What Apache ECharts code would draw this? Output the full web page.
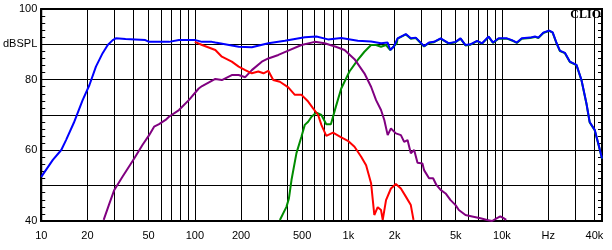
<!DOCTYPE html>
<html>
<head>
<meta charset="utf-8">
<script src="https://cdn.jsdelivr.net/npm/echarts@6/dist/echarts.min.js"></script>
<style>html,body{margin:0;padding:0;background:#fff}#c{width:612px;height:250px}</style>
</head>
<body>
<div id="c"></div>
<script>
// Frequencies in Hz, levels in dBSPL
const blueFreq = [10, 11.9, 13.5, 14.5, 16.3, 18.6, 20.6, 22.7, 25.1, 27.1, 29.2, 30.6, 35.4, 47.6, 50.4, 67.9, 78.8, 101, 111.5, 129, 136, 193, 235, 301, 386, 520, 619, 737, 898, 1151, 1405, 1631, 1802, 1873, 1971, 2091, 2366, 2549, 2746, 3110, 3350, 3610, 3987, 4510, 4986, 5370, 5785, 6235, 6886, 7425, 8190, 8745, 9510, 10770, 11600, 12500, 13460, 15230, 16410, 17250, 18580, 20320, 21380, 22700, 23840, 25690, 27680, 30560, 32940, 35480, 37250, 40160, 42630, 44800];
const blueDb = [52.5, 57.3, 60.1, 62.9, 67.8, 74.2, 78.5, 83.7, 87.5, 89.8, 91.2, 91.7, 91.5, 91.2, 90.7, 90.7, 91.2, 91.2, 90.7, 90.7, 90.5, 89.3, 89.2, 90.3, 91.0, 92.0, 92.2, 91.4, 91.8, 91.0, 90.8, 90.3, 90.5, 88.4, 89.3, 91.7, 92.9, 91.7, 91.9, 89.5, 90.5, 90.7, 91.7, 90.3, 90.7, 91.7, 89.8, 90.0, 91.0, 90.3, 92.2, 90.5, 91.7, 91.7, 91.2, 90.5, 91.7, 91.9, 92.2, 91.9, 93.3, 93.9, 93.4, 90.3, 88.2, 87.6, 85.1, 84.2, 79.9, 73.3, 68.0, 65.8, 61.5, 57.7];

const redFreq = [100, 111.5, 136, 150, 174, 193, 213, 235, 259, 280, 301, 324, 358, 406, 448, 495, 547, 589, 635, 667, 718, 794, 898, 993, 1096, 1211, 1304, 1405, 1475, 1552, 1631, 1673, 1758, 1892, 2038, 2197, 2366, 2549, 2654];
const redDb = [90.7, 89.8, 88.4, 86.5, 85.1, 83.7, 82.7, 81.8, 82.3, 81.8, 82.5, 79.9, 79.4, 77.8, 75.7, 75.7, 73.8, 71.9, 70.0, 67.2, 64.1, 65.0, 63.7, 62.7, 61.0, 58.2, 55.8, 50.7, 41.7, 43.9, 43.1, 40.3, 45.9, 49.2, 50.5, 49.2, 46.9, 44.5, 40.3];

const greenFreq = [358, 395, 410, 426, 459, 495, 520, 547, 575, 619, 667, 718, 769, 828, 898, 1016, 1151, 1271, 1405, 1514, 1631, 1758, 1873, 2065, 2091, 2366, 2549, 2746, 3110, 3350, 3610, 3987, 4510, 4986, 5370, 5785, 6235, 6886, 7425, 8190, 8745, 9510, 10770, 11600, 12500, 13460, 15230, 16410, 17250, 18580, 20320, 21380, 22700, 23840, 25690, 27680, 30560, 32940, 35480, 37250, 40160, 42630, 44800];
const greenDb = [40.3, 44.0, 46.4, 51.6, 59.2, 63.9, 67.2, 68.1, 69.5, 70.7, 70.0, 67.4, 67.4, 72.3, 77.5, 82.3, 85.6, 87.9, 89.8, 89.8, 89.3, 89.8, 88.4, 90.3, 91.6, 92.8, 91.6, 91.8, 89.4, 90.4, 90.6, 91.6, 90.2, 90.6, 91.6, 89.7, 89.9, 90.9, 90.2, 92.1, 90.4, 91.6, 91.6, 91.1, 90.4, 91.6, 91.8, 92.1, 91.8, 93.2, 93.8, 93.3, 90.2, 88.1, 87.5, 85.0, 84.1, 79.8, 73.2, 67.9, 65.7, 61.4, 57.6];

const purpleFreq = [25.5, 27.8, 29.9, 33.8, 40.3, 45.6, 50.4, 54.3, 58.5, 64.5, 67.9, 78.8, 91.4, 106, 111.5, 136, 150, 174, 193, 213, 235, 273, 301, 350, 406, 495, 604, 700, 828, 944, 1096, 1271, 1405, 1514, 1631, 1713, 1802, 1892, 2038, 2197, 2307, 2427, 2549, 2680, 2818, 3035, 3110, 3350, 3561, 3740, 3987, 4295, 4626, 4986, 5237, 5785, 6391, 7241, 7998, 8616, 9284, 9750, 10240, 10660];
const purpleDb = [40.3, 45.0, 48.8, 52.5, 57.7, 61.5, 64.3, 66.7, 67.4, 68.6, 69.5, 71.4, 74.2, 77.5, 78.2, 80.2, 79.9, 81.3, 81.3, 80.7, 82.7, 85.1, 86.0, 87.0, 88.2, 89.8, 90.7, 90.3, 89.3, 88.4, 85.8, 81.8, 78.0, 74.2, 71.4, 68.6, 64.3, 66.2, 64.8, 64.3, 62.4, 62.9, 59.2, 60.1, 56.5, 56.3, 54.4, 52.1, 52.1, 50.2, 48.8, 47.8, 45.9, 44.5, 43.1, 41.7, 41.3, 40.8, 40.3, 40.0, 40.8, 41.3, 40.8, 40.3];

const gridFreqs = [20,30,40,50,60,70,80,90,100,200,300,400,500,600,700,800,900,1000,2000,3000,4000,5000,6000,7000,8000,9000,10000,20000,30000,40000];
const labelFreqs = [10,20,50,100,200,500,1000,2000,5000,10000,20000,40000];
const labelTexts = ['10','20','50','100','200','500','1k','2k','5k','10k','Hz','40k'];
const yLabels = {100:'100', 90:'dBSPL', 80:'80', 70:'', 60:'60', 50:'', 40:'40'};
const fMin = 10, fMax = 44800;

const lg = Math.log10;
const pts = (f, d) => f.map((v, i) => [lg(v), d[i]]);
const lineSeries = (name, f, d, color) => ({
  name, type: 'line', data: pts(f, d), showSymbol: false, symbol: 'none',
  lineStyle: { color, width: 2 }, itemStyle: { color }, animation: false
});

const chart = echarts.init(document.getElementById('c'), null, { renderer: 'canvas' });
const font = 'Liberation Sans, Arial, sans-serif';
chart.setOption({
  animation: false,
  backgroundColor: '#fff',
  grid: { left: 38, right: 10, top: 9, bottom: 29, show: true, borderColor: '#000', borderWidth: 2, containLabel: false },
  xAxis: {
    type: 'value', min: lg(fMin), max: lg(fMax),
    axisLine: { show: true, lineStyle: { color: '#000', width: 2 } },
    splitLine: { show: false },
    axisTick: { show: true, inside: true, length: 212, customValues: gridFreqs.map(lg), lineStyle: { color: '#000', width: 1 } },
    axisLabel: {
      customValues: labelFreqs.map(lg), margin: 9, color: '#000', fontSize: 11, fontFamily: font,
      formatter: v => { const i = labelFreqs.findIndex(f => Math.abs(lg(f) - v) < 1e-6); return i >= 0 ? labelTexts[i] : ''; }
    }
  },
  yAxis: [{
    type: 'value', min: 40, max: 100, interval: 10, position: 'left',
    axisLine: { show: true, lineStyle: { color: '#000', width: 2 } },
    splitLine: { show: true, lineStyle: { color: '#000', width: 1 } },
    axisTick: { show: true, inside: true, length: 4, lineStyle: { color: '#000' } },
    minorTick: { show: true, splitNumber: 5, length: 4, lineStyle: { color: '#000' } },
    axisLabel: { margin: 4, color: '#000', fontSize: 11, fontFamily: font, formatter: v => yLabels[v] ?? '' }
  }, {
    type: 'value', min: 40, max: 100, interval: 10, position: 'right',
    axisLine: { show: true, lineStyle: { color: '#000', width: 2 } },
    splitLine: { show: false },
    axisTick: { show: true, inside: true, length: 4, lineStyle: { color: '#000' } },
    minorTick: { show: true, splitNumber: 5, length: 4, lineStyle: { color: '#000' } },
    axisLabel: { show: false }
  }],
  graphic: [{
    type: 'text', right: 11, top: 9, z: 100,
    style: { text: 'CLIO', font: 'bold 12px "Liberation Serif", "DejaVu Serif", serif', fill: '#000' }
  }],
  series: [
    lineSeries('green', greenFreq, greenDb, '#008c00'),
    lineSeries('purple', purpleFreq, purpleDb, '#800080'),
    lineSeries('red', redFreq, redDb, '#ff0000'),
    lineSeries('blue', blueFreq, blueDb, '#0000ff')
  ]
});
</script>
</body>
</html>
